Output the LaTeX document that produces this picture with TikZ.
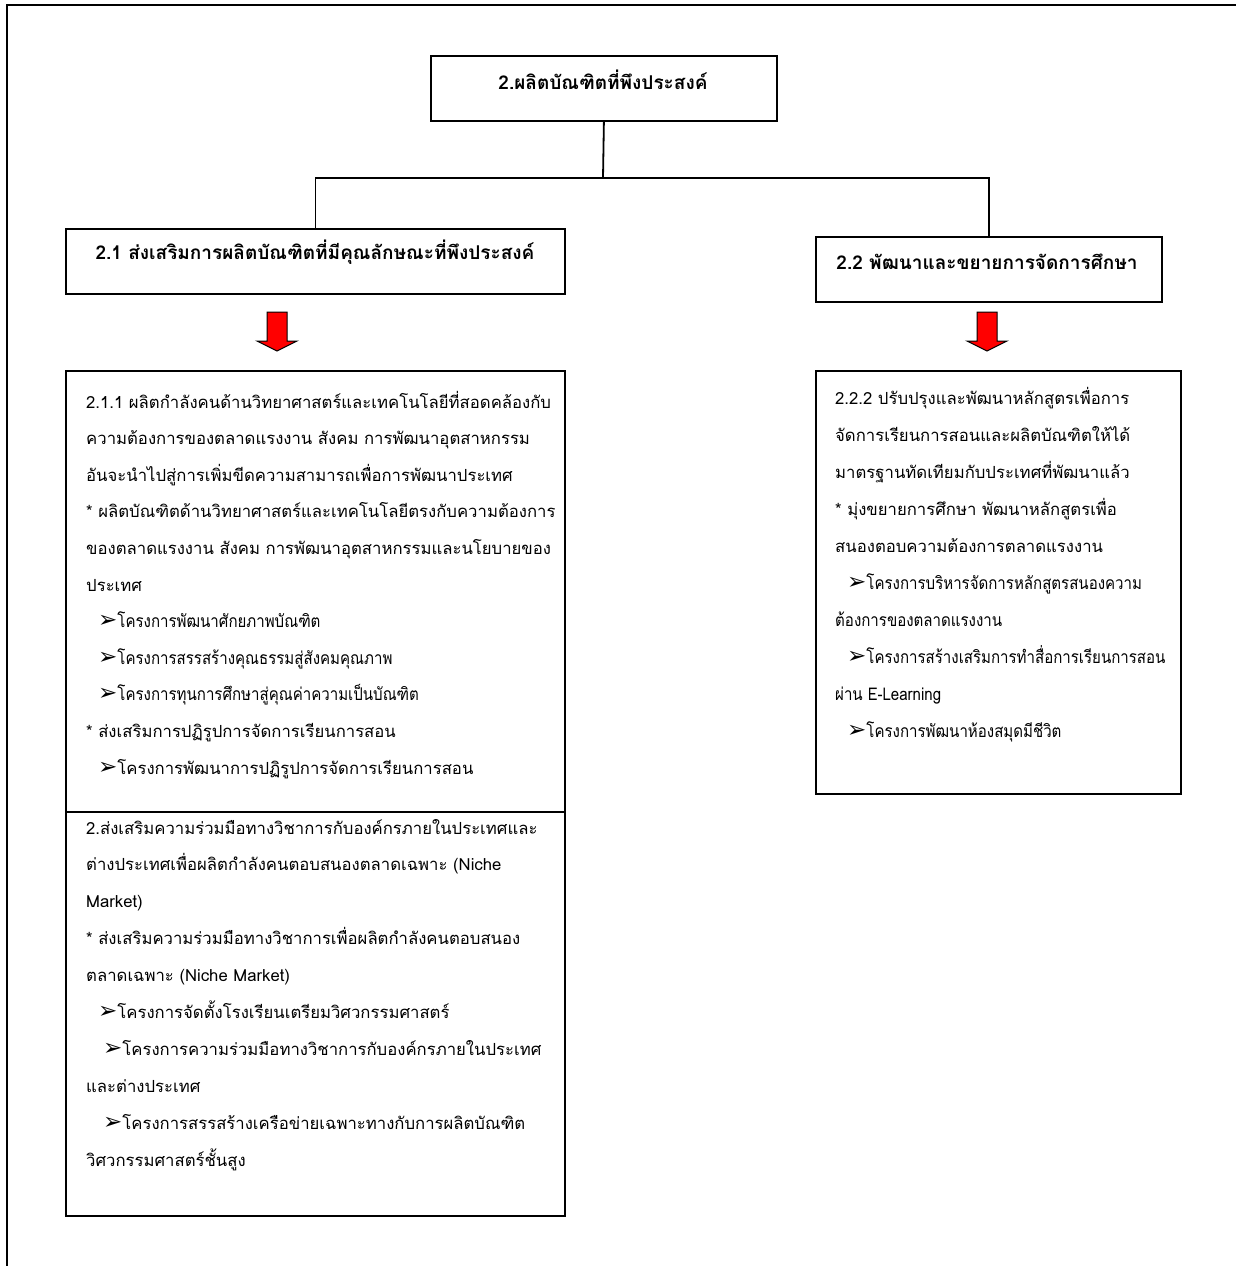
\documentclass[tikz,border=0pt]{standalone}
\usepackage{fontspec}
\newfontfamily\thai[Script=Thai]{Loma}
\newfontfamily\thainarrow[Script=Thai,FakeStretch=0.86]{Loma}
\newfontfamily\dejavu{DejaVu Sans}
\newcommand\arr{{\dejavu\fontsize{23}{23}\selectfont ➢}}
\begin{document}
\begin{tikzpicture}[x=1pt,y=-1pt,
  box/.style={draw, line width=1.8pt, inner sep=0pt, anchor=north west},
  head/.style={font=\thai\bfseries\fontsize{19}{22}\selectfont, inner sep=0pt, anchor=base},
  ln/.style={font=\thai\fontsize{16.7}{20}\selectfont, inner sep=0pt, anchor=base west},
  lnn/.style={font=\thainarrow\fontsize{17.5}{20}\selectfont, inner sep=0pt, anchor=base west},
  link/.style={line width=1.8pt},
  redarrow/.style={fill=red, draw=black, line width=1pt, line join=miter}]
\useasboundingbox (0,0) rectangle (1236,1266);
% frame
\coordinate (fr1) at (1236,5);
\coordinate (fr2) at (7,5);
\coordinate (fr3) at (7,1266);
\draw[line width=1.8pt] (fr1) -- (fr2) -- (fr3);
% header boxes
\node[box, minimum width=346pt, minimum height=65pt] (top) at (430,55) {};
\node[head] (toptxt) at (603,89) {2.ผลิตบัณฑิตที่พึงประสงค์};
\node[box, minimum width=499pt, minimum height=65pt] (b21) at (65,228) {};
\node[head] (b21txt) at (315,259) {2.1 ส่งเสริมการผลิตบัณฑิตที่มีคุณลักษณะที่พึงประสงค์};
\node[box, minimum width=346pt, minimum height=65pt] (b22) at (815,236) {};
\node[head] (b22txt) at (987,269) {2.2 พัฒนาและขยายการจัดการศึกษา};
% connectors
\coordinate (j) at (603,178);
\draw[link] (top.south) -- (j);
\draw[link] (j) -| (b21.north);
\draw[link] (j) -| (b22.north);
% detail boxes
\node[box, minimum width=499pt, minimum height=845pt] (d21) at (65,370) {};
\coordinate (dvl) at (65,812);
\coordinate (dvr) at (564,812);
\draw[link] (dvl) -- (dvr);
\node[box, minimum width=365pt, minimum height=423pt] (d22) at (815,370) {};
% red arrows
\foreach \n/\cx in {a1/277, a2/987}{
  \draw[redarrow] (\cx-10,312) -- (\cx+10,312) -- (\cx+10,341) -- (\cx+20,341)
     -- (\cx,351) -- (\cx-20,341) -- (\cx-10,341) -- cycle;
}
% left upper text
\node[ln] (u1) at (86,408) {2.1.1 ผลิตกำลังคนด้านวิทยาศาสตร์และเทคโนโลยีที่สอดคล้องกับ};
\node[ln] (u2) at (86,444.6) {ความต้องการของตลาดแรงงาน สังคม การพัฒนาอุตสาหกรรม};
\node[ln] (u3) at (86,481.2) {อันจะนำไปสู่การเพิ่มขีดความสามารถเพื่อการพัฒนาประเทศ};
\node[ln] (u4) at (86,517.8) {* ผลิตบัณฑิตด้านวิทยาศาสตร์และเทคโนโลยีตรงกับความต้องการ};
\node[ln] (u5) at (86,554.4) {ของตลาดแรงงาน สังคม การพัฒนาอุตสาหกรรมและนโยบายของ};
\node[ln] (u6) at (86,591) {ประเทศ};
\node[lnn] (u7) at (98,627.6) {\arr โครงการพัฒนาศักยภาพบัณฑิต};
\node[lnn] (u8) at (98,664.2) {\arr โครงการสรรสร้างคุณธรรมสู่สังคมคุณภาพ};
\node[lnn] (u9) at (98,700.8) {\arr โครงการทุนการศึกษาสู่คุณค่าความเป็นบัณฑิต};
\node[ln] (u10) at (86,737.4) {* ส่งเสริมการปฏิรูปการจัดการเรียนการสอน};
\node[ln] (u11) at (98,774) {\arr โครงการพัฒนาการปฏิรูปการจัดการเรียนการสอน};
% left lower text
\node[ln] (v1) at (86,834) {2.ส่งเสริมความร่วมมือทางวิชาการกับองค์กรภายในประเทศและ};
\node[ln] (v2) at (86,870.9) {ต่างประเทศเพื่อผลิตกำลังคนตอบสนองตลาดเฉพาะ (Niche};
\node[ln] (v3) at (86,907.8) {Market)};
\node[ln] (v4) at (86,944.7) {* ส่งเสริมความร่วมมือทางวิชาการเพื่อผลิตกำลังคนตอบสนอง};
\node[ln] (v5) at (86,981.6) {ตลาดเฉพาะ (Niche Market)};
\node[ln] (v6) at (98,1018.5) {\arr โครงการจัดตั้งโรงเรียนเตรียมวิศวกรรมศาสตร์};
\node[ln] (v7) at (103,1055.4) {\arr โครงการความร่วมมือทางวิชาการกับองค์กรภายในประเทศ};
\node[ln] (v8) at (86,1092.3) {และต่างประเทศ};
\node[ln] (v9) at (103,1129.2) {\arr โครงการสรรสร้างเครือข่ายเฉพาะทางกับการผลิตบัณฑิต};
\node[ln] (v10) at (86,1166.1) {วิศวกรรมศาสตร์ชั้นสูง};
% right text
\node[ln] (r1) at (835,404) {2.2.2 ปรับปรุงและพัฒนาหลักสูตรเพื่อการ};
\node[ln] (r2) at (835,441.1) {จัดการเรียนการสอนและผลิตบัณฑิตให้ได้};
\node[ln] (r3) at (835,478.2) {มาตรฐานทัดเทียมกับประเทศที่พัฒนาแล้ว};
\node[ln] (r4) at (835,515.3) {* มุ่งขยายการศึกษา พัฒนาหลักสูตรเพื่อ};
\node[ln] (r5) at (835,552.4) {สนองตอบความต้องการตลาดแรงงาน};
\node[lnn] (r6) at (847,589.5) {\arr โครงการบริหารจัดการหลักสูตรสนองความ};
\node[lnn] (r7) at (835,626.6) {ต้องการของตลาดแรงงาน};
\node[lnn] (r8) at (847,663.7) {\arr โครงการสร้างเสริมการทำสื่อการเรียนการสอน};
\node[lnn] (r9) at (835,700.8) {ผ่าน E-Learning};
\node[lnn] (r10) at (847,737.9) {\arr โครงการพัฒนาห้องสมุดมีชีวิต};
\end{tikzpicture}
\end{document}
